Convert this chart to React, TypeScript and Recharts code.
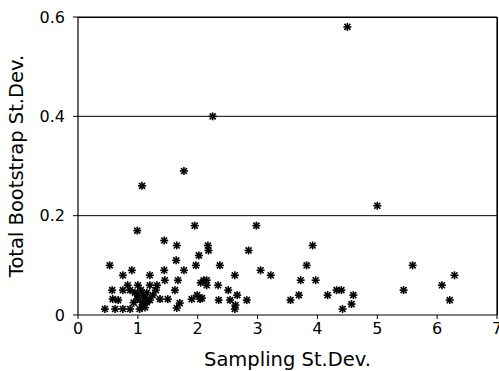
import React from "react";
import {
  ScatterChart,
  Scatter,
  XAxis,
  YAxis,
  CartesianGrid,
  ReferenceLine,
  Label,
} from "recharts";

const samplingSd = [
  4.5, 2.25, 1.77, 1.07, 5.0, 2.98, 1.95, 0.99, 1.44, 1.65, 2.17, 2.18, 2.85, 3.92,
  2.02, 1.64, 1.97, 0.53, 2.37, 3.82, 5.59, 0.9, 1.44, 1.77, 3.05, 0.75, 1.2, 2.62,
  3.22, 6.29, 1.45, 1.67, 2.15, 3.72, 3.97, 0.83, 1.2, 1.32, 2.15, 2.34, 6.08, 0.57,
  0.75, 0.87, 1.62, 2.51, 4.32, 4.4, 5.44, 0.95, 1.99, 2.66, 3.69, 4.17, 4.6, 1.12,
  0.58, 0.67, 0.99, 1.37, 1.5, 1.9, 2.04, 2.07, 2.35, 2.54, 2.82, 3.55, 6.21, 1.07,
  1.15, 1.7, 2.63, 4.57, 0.45, 0.62, 0.75, 0.87, 1.03, 1.65, 2.62, 4.42, 1.05, 1.1,
  1.15, 1.0, 1.08, 1.12, 1.2, 1.25, 0.93, 1.3, 1.0, 2.05, 2.1,
];
const bootstrapSd = [
  0.58, 0.4, 0.29, 0.26, 0.22, 0.18, 0.18, 0.17, 0.15, 0.14, 0.14, 0.13, 0.13, 0.14,
  0.12, 0.11, 0.1, 0.1, 0.1, 0.1, 0.1, 0.09, 0.09, 0.09, 0.09, 0.08, 0.08, 0.08,
  0.08, 0.08, 0.07, 0.07, 0.07, 0.07, 0.07, 0.06, 0.06, 0.06, 0.06, 0.06, 0.06, 0.05,
  0.05, 0.05, 0.05, 0.05, 0.05, 0.05, 0.05, 0.045, 0.04, 0.04, 0.04, 0.04, 0.04, 0.036,
  0.032, 0.03, 0.032, 0.032, 0.032, 0.032, 0.032, 0.034, 0.03, 0.03, 0.03, 0.03, 0.03, 0.026,
  0.026, 0.024, 0.02, 0.022, 0.012, 0.012, 0.012, 0.012, 0.012, 0.014, 0.012, 0.012, 0.05, 0.04,
  0.045, 0.06, 0.02, 0.015, 0.03, 0.04, 0.025, 0.05, 0.04, 0.065, 0.07,
];
const xTicks = [0, 1, 2, 3, 4, 5, 6, 7];
const yTicks = [0, 0.2, 0.4, 0.6];

const data = samplingSd.map((x, i) => ({ x, y: bootstrapSd[i] }));

const FONT = "DejaVu Sans";

// layout
const W = 499;
const H = 371;
const MARGIN = { top: 17, right: 2, bottom: 0, left: 0 };
const Y_AXIS_W = 78;
const X_AXIS_H = 56;
const PLOT_W = W - MARGIN.left - MARGIN.right - Y_AXIS_W;
const PLOT_H = H - MARGIN.top - MARGIN.bottom - X_AXIS_H;

const Asterisk = (props: any) => {
  const { cx, cy } = props;
  const r = 4;
  const d = r * 0.75;
  return (
    <g stroke="#000" strokeWidth={1.6}>
      <line x1={cx - r} y1={cy} x2={cx + r} y2={cy} />
      <line x1={cx} y1={cy - r} x2={cx} y2={cy + r} />
      <line x1={cx - d} y1={cy - d} x2={cx + d} y2={cy + d} />
      <line x1={cx - d} y1={cy + d} x2={cx + d} y2={cy - d} />
    </g>
  );
};

const fmtY = (v: number) => (v === 0 ? "0" : v.toFixed(1));

export default function App() {
  return (
    <div style={{ position: "absolute", left: 0, top: 0, width: W, height: H, background: "#fff" }}>
      <ScatterChart width={W} height={H} margin={MARGIN}>
        <CartesianGrid
          vertical={false}
          horizontal={true}
          stroke="#000"
          strokeWidth={1}
          horizontalValues={[0.2, 0.4]}
        />
        <XAxis
          type="number"
          dataKey="x"
          domain={[0, 7]}
          ticks={xTicks}
          interval={0}
          height={X_AXIS_H}
          axisLine={{ stroke: "#000", strokeWidth: 1.2 }}
          tickLine={{ stroke: "#000" }}
          tickSize={4}
          tick={{ fill: "#000", fontSize: 16, fontFamily: FONT }}
          tickMargin={4}
        >
          <Label
            value="Sampling St.Dev."
            position="insideBottom"
            offset={5}
            style={{ fill: "#000", fontSize: 19.5, fontFamily: FONT }}
          />
        </XAxis>
        <YAxis
          type="number"
          dataKey="y"
          domain={[0, 0.6]}
          ticks={yTicks}
          interval={0}
          width={Y_AXIS_W}
          tickFormatter={fmtY}
          axisLine={{ stroke: "#000", strokeWidth: 1.2 }}
          tickLine={{ stroke: "#000" }}
          tickSize={5}
          tick={{ fill: "#000", fontSize: 16, fontFamily: FONT }}
          tickMargin={8}
        >
          <Label
            value="Total Bootstrap St.Dev."
            angle={-90}
            position="insideLeft"
            offset={16}
            style={{ fill: "#000", fontSize: 19.5, fontFamily: FONT, textAnchor: "middle" }}
          />
        </YAxis>
        <ReferenceLine y={0.6} stroke="#000" strokeWidth={1.2} ifOverflow="extendDomain" />
        <ReferenceLine x={7} stroke="#000" strokeWidth={1.2} ifOverflow="extendDomain" />
        <Scatter data={data} shape={<Asterisk />} isAnimationActive={false} />
      </ScatterChart>
      {/* plot frame: top and right edges of the plotting box */}
      <div
        style={{
          position: "absolute",
          left: MARGIN.left + Y_AXIS_W,
          top: MARGIN.top - 0.5,
          width: PLOT_W + 0.5,
          height: PLOT_H + 0.5,
          boxSizing: "border-box",
          borderTop: "1px solid #000",
          borderRight: "1px solid #000",
          pointerEvents: "none",
        }}
      />
    </div>
  );
}
